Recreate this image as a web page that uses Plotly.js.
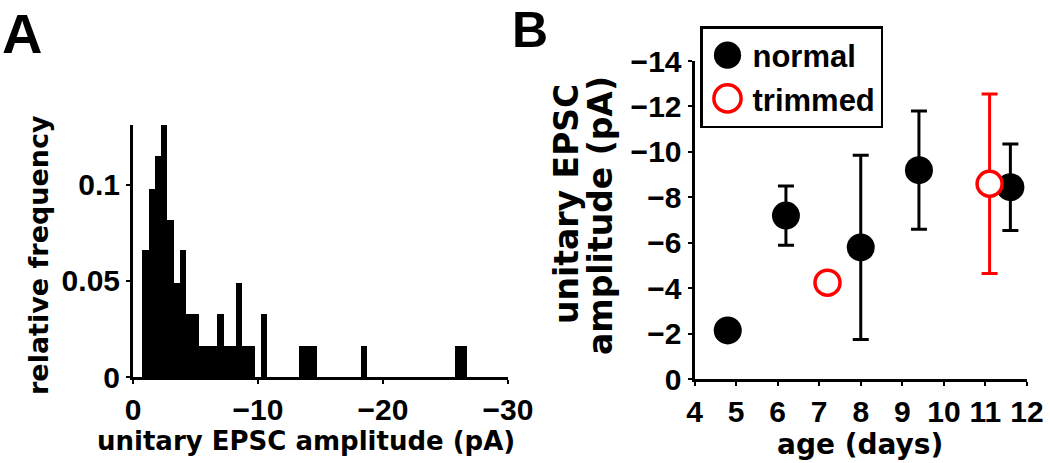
<!DOCTYPE html>
<html>
<head>
<meta charset="utf-8">
<script src="https://cdn.plot.ly/plotly-3.0.1.min.js"></script>
<style>
html,body{margin:0;padding:0;background:#fff;}
#chart{width:1050px;height:463px;}
</style>
</head>
<body>
<div id="chart"></div>
<script>
// ---- Panel A: histogram (bin centres, pA, and relative frequency) ----
const binCenters = [-1.0,-1.5,-2.0,-2.5,-3.0,-3.5,-4.0,-4.5,-5.0,-5.5,-6.0,-6.5,-7.0,-7.5,-8.0,-8.5,-9.0,-9.5,-10.5,-13.5,-14.0,-14.5,-18.5,-26.0,-26.5];
const relFreq    = [0.066,0.098,0.115,0.131,0.082,0.049,0.066,0.033,0.033,0.016,0.016,0.016,0.033,0.016,0.016,0.049,0.016,0.016,0.033,0.016,0.016,0.016,0.016,0.016,0.016];
const binWidth = 0.5;
const histXTickVals = [0,-10,-20,-30];
const histXTickText = ['0','\u221210','\u221220','\u221230'];
const histYTickVals = [0,0.05,0.1];
const histYTickText = ['0','0.05','0.1'];

// ---- Panel B: amplitude vs age ----
const normalAge = [4.8,6.2,8.0,9.4,11.6];
const normalAmp = [-2.15,-7.2,-5.8,-9.2,-8.45];
const normalErr = [0.4,1.3,4.05,2.6,1.9];
const trimmedAge = [7.2,11.1];
const trimmedAmp = [-4.25,-8.6];
const trimmedErr = [0.3,3.95];
const ageTickVals = [4,5,6,7,8,9,10,11,12];
const ageTickText = ['4','5','6','7','8','9','10','11','12'];
const ampTickVals = [0,-2,-4,-6,-8,-10,-12,-14];
const ampTickText = ['0','\u22122','\u22124','\u22126','\u22128','\u221210','\u221212','\u221214'];

const W = 1050, H = 463;
const px = v => v / W;
const py = v => 1 - v / H;
const tickFamily = 'Liberation Sans, Arial, Helvetica, sans-serif';
const titleFamily = 'DejaVu Sans, Verdana, sans-serif';

const data = [
  {
    type: 'bar', x: binCenters, y: relFreq, width: binWidth,
    marker: {color: '#000', line: {width: 0}},
    xaxis: 'x', yaxis: 'y', showlegend: false, hoverinfo: 'skip'
  },
  {
    type: 'scatter', mode: 'markers', name: 'normal',
    x: normalAge, y: normalAmp,
    error_y: {type: 'data', array: normalErr, visible: true, color: '#000', thickness: 3, width: 8},
    marker: {color: '#000', size: 28, line: {width: 0}},
    xaxis: 'x2', yaxis: 'y2', cliponaxis: false
  },
  {
    type: 'scatter', mode: 'markers', name: 'trimmed',
    x: trimmedAge, y: trimmedAmp,
    error_y: {type: 'data', array: trimmedErr, visible: true, color: '#ff0000', thickness: 3, width: 8},
    marker: {color: '#fff', size: 25, line: {width: 3.5, color: '#ff0000'}},
    xaxis: 'x2', yaxis: 'y2', cliponaxis: false
  }
];

const axisCommon = {
  showline: true, linewidth: 3, linecolor: '#000', mirror: false,
  ticks: 'outside', ticklen: 4, tickwidth: 2, tickcolor: '#000',
  showgrid: false, zeroline: false, fixedrange: true,
  tickmode: 'array'
};

function ann(text, x, y, size, family, extra) {
  return Object.assign({
    text: text, xref: 'paper', yref: 'paper', x: px(x), y: py(y),
    xanchor: 'center', yanchor: 'middle', showarrow: false, borderpad: 0,
    font: {family: family, size: size, weight: 700, color: '#000'}
  }, extra || {});
}

const layout = {
  width: W, height: H, autosize: false,
  margin: {l: 0, r: 0, t: 0, b: 0, pad: 0},
  paper_bgcolor: '#fff', plot_bgcolor: 'rgba(0,0,0,0)',
  bargap: 0,
  showlegend: true,
  xaxis: Object.assign({}, axisCommon, {
    domain: [px(133), px(508)], range: [0, -30], anchor: 'y',
    tickvals: histXTickVals, ticktext: histXTickText,
    tickfont: {family: tickFamily, size: 30, weight: 700, color: '#000'}
  }),
  yaxis: Object.assign({}, axisCommon, {
    domain: [1 - 377 / H, 1 - 125 / H], range: [0, 0.1312], anchor: 'x',
    tickvals: histYTickVals, ticktext: histYTickText,
    tickfont: {family: tickFamily, size: 30, weight: 700, color: '#000'}
  }),
  xaxis2: Object.assign({}, axisCommon, {
    domain: [px(694.5), px(1027)], range: [4, 12], anchor: 'y2',
    tickvals: ageTickVals, ticktext: ageTickText,
    tickfont: {family: tickFamily, size: 30, weight: 700, color: '#000'}
  }),
  yaxis2: Object.assign({}, axisCommon, {
    domain: [1 - 379.3 / H, 1 - 61 / H], range: [0, -14], anchor: 'x2',
    tickvals: ampTickVals, ticktext: ampTickText,
    tickfont: {family: tickFamily, size: 30, weight: 700, color: '#000'}
  }),
  legend: {
    x: px(700), y: py(26), xanchor: 'left', yanchor: 'top',
    bordercolor: '#000', borderwidth: 2.5, bgcolor: '#fff',
    font: {family: tickFamily, size: 31, weight: 700, color: '#000'},
    tracegroupgap: 0, itemsizing: 'trace', itemwidth: 40
  },
  annotations: [
    ann('A', 22, 34, 56, tickFamily),
    ann('B', 529.5, 30, 50, tickFamily),
    ann('relative frequency', 38, 255, 27, titleFamily, {textangle: -90}),
    ann('unitary EPSC amplitude (pA)', 306, 441, 26, titleFamily),
    ann('unitary EPSC', 567, 204, 33, titleFamily, {textangle: -90}),
    ann('amplitude (pA)', 600, 216, 33, titleFamily, {textangle: -90}),
    ann('age (days)', 860, 444, 28, titleFamily)
  ]
};

Plotly.newPlot('chart', data, layout, {staticPlot: true, displayModeBar: false}).then(gd => {
  const scale = 1.7;
  gd.querySelectorAll('.legend .legendpoints path.scatterpts').forEach(p => {
    const t = p.getAttribute('transform') || '';
    p.setAttribute('transform', t + ' scale(' + scale + ')');
    const sw = parseFloat(p.style.strokeWidth || '0');
    if (sw > 0) p.style.strokeWidth = (sw / scale) + 'px';
  });
});
</script>
</body>
</html>
